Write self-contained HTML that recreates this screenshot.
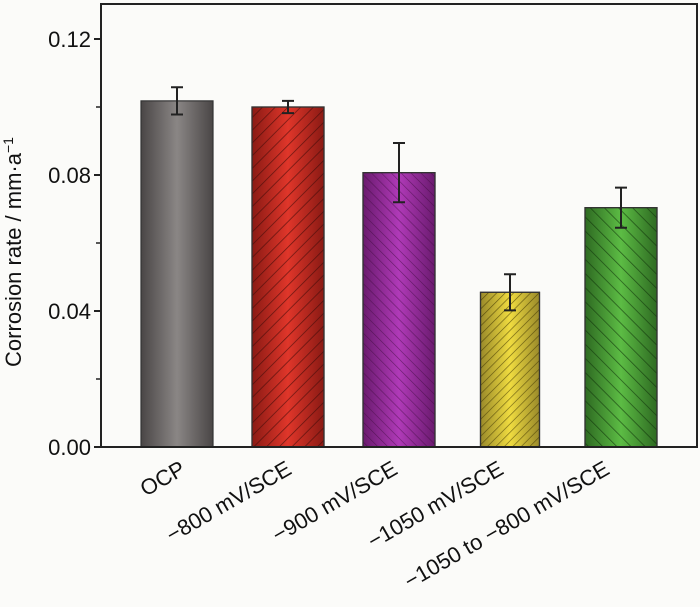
<!DOCTYPE html>
<html><head><meta charset="utf-8"><style>
body{margin:0;background:#fbfbf9;}
svg{display:block;font-family:"Liberation Sans",sans-serif;}
</style></head><body>
<svg id="c" width="700" height="607">
<defs>
<linearGradient id="g0" x1="0" x2="1"><stop offset="0" stop-color="#4a4646"/><stop offset="0.5" stop-color="#8a8685"/><stop offset="1" stop-color="#4a4646"/></linearGradient>
<linearGradient id="g1" x1="0" x2="1"><stop offset="0" stop-color="#8a1a14"/><stop offset="0.5" stop-color="#e0362a"/><stop offset="1" stop-color="#8a1a14"/></linearGradient>
<linearGradient id="g2" x1="0" x2="1"><stop offset="0" stop-color="#6a1a6e"/><stop offset="0.5" stop-color="#b03ab8"/><stop offset="1" stop-color="#6a1a6e"/></linearGradient>
<linearGradient id="g3" x1="0" x2="1"><stop offset="0" stop-color="#9a8a2a"/><stop offset="0.5" stop-color="#f0dc40"/><stop offset="1" stop-color="#9a8a2a"/></linearGradient>
<linearGradient id="g4" x1="0" x2="1"><stop offset="0" stop-color="#2e6a22"/><stop offset="0.5" stop-color="#5cbc44"/><stop offset="1" stop-color="#2e6a22"/></linearGradient>
<pattern id="hR" width="9" height="9" patternUnits="userSpaceOnUse" patternTransform="rotate(45)"><line x1="0" y1="0" x2="0" y2="9" stroke="#3a0a08" stroke-width="1.5" opacity="0.7"/></pattern>
<pattern id="hL" width="7" height="7" patternUnits="userSpaceOnUse" patternTransform="rotate(-45)"><line x1="0" y1="0" x2="0" y2="7" stroke="#3a0a3a" stroke-width="1.2" opacity="0.6"/></pattern>
<pattern id="hY" width="6" height="6" patternUnits="userSpaceOnUse" patternTransform="rotate(45)"><line x1="0" y1="0" x2="0" y2="6" stroke="#3a3000" stroke-width="1.3" opacity="0.7"/></pattern>
<pattern id="hG" width="10" height="10" patternUnits="userSpaceOnUse" patternTransform="rotate(-45)"><line x1="0" y1="0" x2="0" y2="10" stroke="#0e3008" stroke-width="1.5" opacity="0.7"/></pattern>
</defs>
<g id="plot"></g>
</svg>
<script>
const categories=["OCP","\u2212800 mV/SCE","\u2212900 mV/SCE","\u22121050 mV/SCE","\u22121050 to \u2212800 mV/SCE"];
const values=[0.1018,0.1000,0.0807,0.0455,0.0704];
const errors=[0.0040,0.0018,0.0087,0.0053,0.0059];
const yTicks=[0.00,0.04,0.08,0.12];
const yTickLabels=["0.00","0.04","0.08","0.12"];
const fills=["url(#g0)","url(#g1)","url(#g2)","url(#g3)","url(#g4)"];
const hatches=[null,"url(#hR)","url(#hL)","url(#hY)","url(#hG)"];
const barWidths=[72,72,72,59,72];

const NS="http://www.w3.org/2000/svg";
const g=document.getElementById('plot');
const X0=101,X1=697,Y0=447,YT=39,YTOP=4;
function y(v){return Y0-(v/0.12)*(Y0-YT);}
function x(i){return 177+i*111;}
function el(t,a){const e=document.createElementNS(NS,t);for(const k in a)e.setAttribute(k,a[k]);g.appendChild(e);return e;}

for(let i=0;i<values.length;i++){
  const w=barWidths[i],top=y(values[i]);
  const r=el('rect',{x:x(i)-w/2,y:top,width:w,height:Y0-top,fill:fills[i],stroke:'#333',"stroke-width":1.2});
  
  
  if(hatches[i]){const h=el('rect',{x:x(i)-w/2,y:top,width:w,height:Y0-top,fill:hatches[i],stroke:'#333',"stroke-width":1.2});
    
    }
  const hi=y(values[i]+errors[i]),lo=y(values[i]-errors[i]);
  const e=el('path',{d:`M${x(i)},${hi}V${lo}M${x(i)-6},${hi}H${x(i)+6}M${x(i)-6},${lo}H${x(i)+6}`,stroke:'#222',"stroke-width":2,fill:'none'});
  
  
  const lx=x(i)+10-i*5,ly=Y0+26;
  const t=el('text',{x:lx,y:ly,"text-anchor":'end',"font-size":22,fill:'#111',transform:`rotate(-30 ${lx} ${ly})`});
  t.textContent=categories[i];
  
  
}
const ax=el('rect',{x:X0,y:YTOP,width:X1-X0,height:Y0-YTOP,stroke:'#222',"stroke-width":2,fill:'none'});


for(let i=0;i<yTicks.length;i++){
  const yy=y(yTicks[i]);
  const tk=el('line',{x1:X0-7,x2:X0,y1:yy,y2:yy,stroke:'#222',"stroke-width":2});
  
  
  if(i<yTicks.length-1){const ym=y((yTicks[i]+yTicks[i+1])/2);
    const m=el('line',{x1:X0-5,x2:X0,y1:ym,y2:ym,stroke:'#222',"stroke-width":1.5});
    
    }
  const t=el('text',{x:91,y:yy+8,"text-anchor":'end',"font-size":22,fill:'#111'});
  t.textContent=yTickLabels[i];
  
  
}
const yt=el('text',{x:21,y:252,"text-anchor":'middle',"font-size":22,fill:'#111',transform:'rotate(-90 21 252)'});
yt.innerHTML='Corrosion rate / mm·a<tspan dy="-8" font-size="14">−1</tspan>';


</script>
</body></html>
